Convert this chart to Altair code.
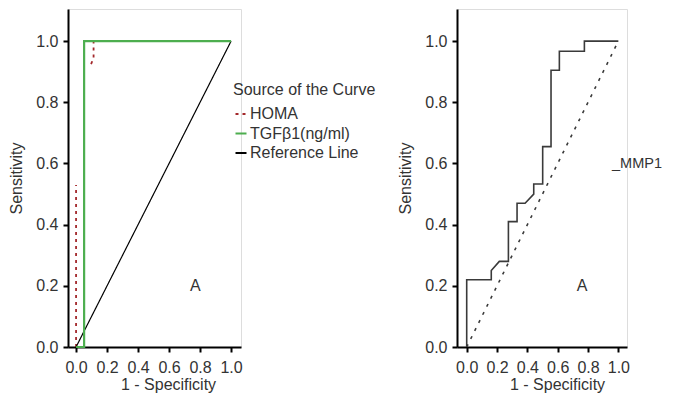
import altair as alt
import pandas as pd

# ---------------- data ----------------
series_names = ["HOMA", "TGFβ1(ng/ml)", "Reference Line"]
series_colors = ["#a3282b", "#4dae4f", "#000000"]

homa_x = [0.0, 0.0, 0.097, 0.113, 0.113, 1.0]
homa_y = [0.0, 0.53, 0.925, 0.945, 1.0, 1.0]
homa_seg = [1, 1, 2, 2, 2, 2]

tgf_x = [0.0, 0.052, 0.052, 1.0]
tgf_y = [0.0, 0.0, 1.0, 1.0]

ref_x = [0.0, 1.0]
ref_y = [0.0, 1.0]

mmp_x = [0.0, 0.0, 0.162, 0.162, 0.215, 0.275, 0.275, 0.332, 0.332, 0.385,
         0.442, 0.442, 0.501, 0.501, 0.556, 0.556, 0.611, 0.611, 0.776, 0.776, 1.0]
mmp_y = [0.0, 0.22, 0.22, 0.25, 0.28, 0.28, 0.41, 0.41, 0.47, 0.47,
         0.50, 0.533, 0.533, 0.655, 0.655, 0.905, 0.905, 0.967, 0.967, 1.0, 1.0]

diag_x = [0.0, 1.0]
diag_y = [0.0, 1.0]

tick_vals = [0.0, 0.2, 0.4, 0.6, 0.8, 1.0]

FONT = "Liberation Sans"
TXT = "#333333"

# ---------------- tables ----------------
homa_df = pd.DataFrame({"x": homa_x, "y": homa_y, "seg": homa_seg, "src": "HOMA"})
homa_df["i"] = range(len(homa_df))
tgf_df = pd.DataFrame({"x": tgf_x, "y": tgf_y, "src": "TGFβ1(ng/ml)"})
tgf_df["i"] = range(len(tgf_df))
ref_df = pd.DataFrame({"x": ref_x, "y": ref_y, "src": "Reference Line"})
ref_df["i"] = range(len(ref_df))

mmp_df = pd.DataFrame({"x": mmp_x, "y": mmp_y, "i": range(len(mmp_x))})
diag_df = pd.DataFrame({"x": diag_x, "y": diag_y})

left_text = pd.DataFrame({"x": [0.77], "y": [0.2], "t": ["A"]})
right_text = pd.DataFrame({"x": [0.76], "y": [0.2], "t": ["A"]})
mmp_label = pd.DataFrame({"x": [0.958], "y": [0.598], "t": ["_MMP1"]})

axis_style = dict(
    values=tick_vals, format=".1f", grid=False,
    domainColor="black", domainWidth=2,
    tickColor="black", tickWidth=2, tickSize=5, tickCount=6,
    labelFont=FONT, labelFontSize=16, labelColor=TXT, labelFlush=False,
    labelOverlap=False,
    titleFont=FONT, titleFontSize=16, titleColor=TXT, titleFontWeight="normal",
)

def xaxis():
    return alt.Axis(title="1 - Specificity", labelPadding=7, titlePadding=1,
                    titleX=100, titleAnchor="start", titleAlign="center", **axis_style)

def yaxis():
    return alt.Axis(title="Sensitivity", labelPadding=5, titlePadding=11, **axis_style)

Y_DOM = [0, 1.105]

# ---------------- left panel ----------------
lx = alt.X("x:Q", scale=alt.Scale(domain=[-0.052, 1.064], nice=False, zero=False), axis=xaxis())
ly = alt.Y("y:Q", scale=alt.Scale(domain=Y_DOM, nice=False, zero=False), axis=yaxis())

color_enc = alt.Color(
    "src:N",
    scale=alt.Scale(domain=series_names, range=series_colors),
    sort=series_names,
    legend=alt.Legend(
        title="Source of the Curve", orient="none", legendX=165, legendY=73,
        symbolType="stroke", symbolSize=121, symbolStrokeWidth=2,
        labelFont=FONT, labelFontSize=16, labelColor=TXT, labelOffset=1,
        titleFont=FONT, titleFontSize=16, titleColor=TXT, titleFontWeight="normal",
        titlePadding=8, rowPadding=3.5, titleLimit=300, labelLimit=300,
    ),
)
dash_enc = alt.StrokeDash(
    "src:N",
    scale=alt.Scale(domain=series_names, range=[[3, 4], [1, 0], [1, 0]]),
    legend=None,
)

homa_line = alt.Chart(homa_df).mark_line(strokeWidth=1.8).encode(
    x=lx, y=ly, color=color_enc, strokeDash=dash_enc, detail="seg:N", order="i:Q")
ref_line = alt.Chart(ref_df).mark_line(strokeWidth=1.2).encode(
    x=lx, y=ly, color=color_enc, strokeDash=dash_enc, order="i:Q")
tgf_line = alt.Chart(tgf_df).mark_line(strokeWidth=2.2).encode(
    x=lx, y=ly, color=color_enc, strokeDash=dash_enc, order="i:Q")

left_A = alt.Chart(left_text).mark_text(font=FONT, fontSize=16, color=TXT).encode(
    x=lx, y=ly, text="t:N")

left = alt.layer(homa_line, ref_line, tgf_line, left_A).properties(width=173, height=338)

# ---------------- right panel ----------------
rx = alt.X("x:Q", scale=alt.Scale(domain=[-0.064, 1.057], nice=False, zero=False), axis=xaxis())
ry = alt.Y("y:Q", scale=alt.Scale(domain=Y_DOM, nice=False, zero=False), axis=yaxis())

diag = alt.Chart(diag_df).mark_line(color="#3a3a3a", strokeWidth=1.6, strokeDash=[3, 6]).encode(x=rx, y=ry)
mmp = alt.Chart(mmp_df).mark_line(color="#3a3a3a", strokeWidth=1.6).encode(x=rx, y=ry, order="i:Q")
right_A = alt.Chart(right_text).mark_text(font=FONT, fontSize=16, color=TXT).encode(
    x=rx, y=ry, text="t:N")
mmp_t = alt.Chart(mmp_label).mark_text(font=FONT, fontSize=14.5, color=TXT, align="left").encode(
    x=rx, y=ry, text="t:N")

right = alt.layer(diag, mmp, right_A, mmp_t).properties(width=170, height=338)

chart = alt.hconcat(left, right, spacing=216, bounds="flush").properties(
    padding={"left": 0, "top": 0, "right": 0, "bottom": 0},
).configure_view(strokeWidth=0).configure_axis(labelOverlap=False).configure(background="white")

chart.save("out.html", embed_options={"renderer": "svg", "actions": False})
